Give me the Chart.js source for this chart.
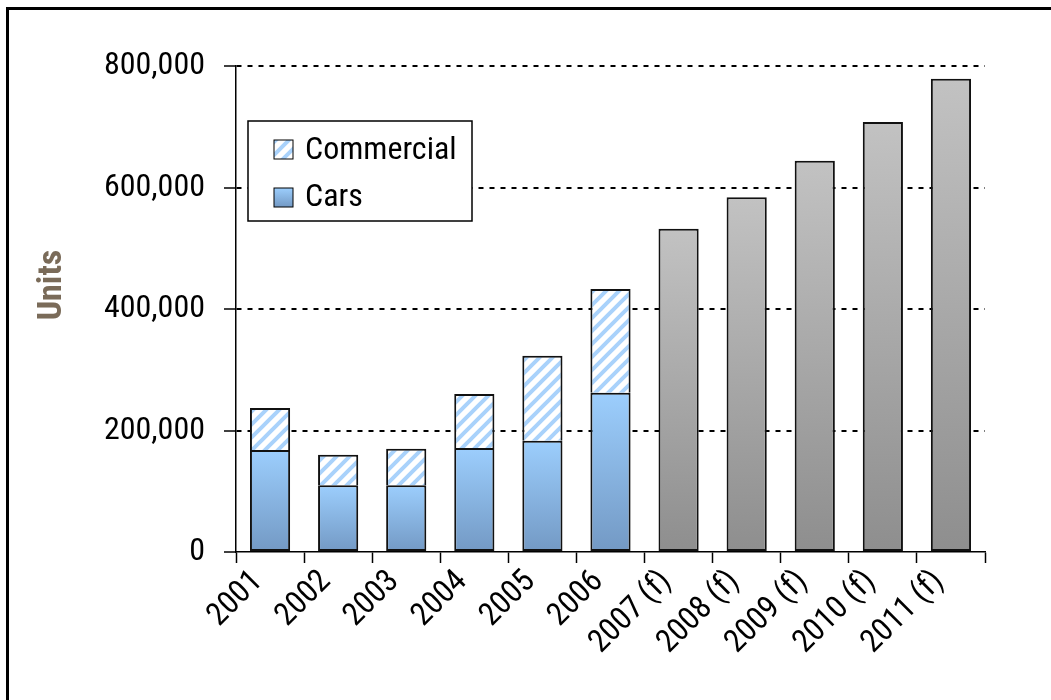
<!DOCTYPE html>
<html>
<head>
<meta charset="utf-8">
<script src="https://cdn.jsdelivr.net/npm/chart.js@4.4.1/dist/chart.umd.min.js"></script>
<style>
  body { margin: 0; background: #fff; overflow: hidden; }
  #frame { position: absolute; left: 6px; top: 7px; width: 2000px; height: 2000px;
           border-left: 3px solid #000; border-top: 3px solid #000; }
  #wrap { position: absolute; left: 0; top: 0; width: 1051px; height: 700px; }
</style>
</head>
<body>
<div id="frame"></div>
<div id="wrap"><canvas id="chart"></canvas></div>
<script>
// data
let years = ['2001', '2002', '2003', '2004', '2005', '2006',
             '2007 (f)', '2008 (f)', '2009 (f)', '2010 (f)', '2011 (f)'];
let cars       = [168000, 110000, 110000, 171000, 183000, 262000, null, null, null, null, null];
let commercial = [69000, 50000, 60000, 89000, 140000, 171000, null, null, null, null, null];
let forecast   = [null, null, null, null, null, null, 532000, 584000, 644000, 708000, 779000];
let yTicks = [0, 200000, 400000, 600000, 800000];

const FONT = "'Roboto Condensed', 'Liberation Sans Narrow', sans-serif";

// hatch pattern for commercial
let pc = document.createElement('canvas');
pc.width = 13; pc.height = 13;
let p = pc.getContext('2d');
p.fillStyle = '#fff';
p.fillRect(0, 0, 13, 13);
p.strokeStyle = '#a9d2fb';
p.lineWidth = 4;
p.beginPath();
p.moveTo(-2, 15); p.lineTo(15, -2);
p.moveTo(-8, 8); p.lineTo(8, -8);
p.moveTo(5, 21); p.lineTo(21, 5);
p.stroke();
let hatch = p.createPattern(pc, 'repeat');

// 棒ごとのグラデーション
function barGradient(c, top, bottom) {
  let chart = c.chart;
  if (!chart.chartArea) return top;
  let y = chart.scales.y;
  let v = c.parsed ? c.parsed.y : 0;
  if (v == null || isNaN(v)) return top;
  let y0 = y.getPixelForValue(0);
  let y1 = y.getPixelForValue(v);
  if (!isFinite(y1) || y1 >= y0) return top;
  let g = chart.ctx.createLinearGradient(0, y1, 0, y0);
  g.addColorStop(0, top);
  g.addColorStop(1, bottom);
  return g;
}

// 凡例と軸タイトル
let extras = {
  id: 'extras',
  afterDraw(chart) {
    let ctx = chart.ctx;
    ctx.save();
    // Units
    ctx.translate(52, 285);
    ctx.rotate(-Math.PI / 2);
    ctx.fillStyle = '#7a6b59';
    ctx.font = "bold 34px " + FONT;
    ctx.textAlign = 'center';
    ctx.textBaseline = 'middle';
    ctx.fillText('Units', 0, 0);
    ctx.restore();

    ctx.save();
    ctx.fillStyle = '#fff';
    ctx.fillRect(248, 121, 224, 100);
    ctx.strokeStyle = '#000';
    ctx.lineWidth = 1.5;
    ctx.strokeRect(248, 121, 224, 100);
    // commercial swatch
    ctx.fillStyle = hatch;
    ctx.fillRect(274, 140, 19, 19);
    ctx.lineWidth = 1;
    ctx.strokeRect(274, 140, 19, 19);
    // cars swatch
    let g = ctx.createLinearGradient(0, 188, 0, 207);
    g.addColorStop(0, '#9ccefd');
    g.addColorStop(1, '#7399c4');
    ctx.fillStyle = g;
    ctx.fillRect(274, 188, 19, 19);
    ctx.strokeRect(274, 188, 19, 19);
    ctx.fillStyle = '#000';
    ctx.font = "32px " + FONT;
    ctx.textBaseline = 'middle';
    ctx.fillText('Commercial', 305, 151);
    ctx.fillText('Cars', 305, 198);
    ctx.restore();
  }
};

let ctx = document.getElementById('chart');
new Chart(ctx, {
  type: 'bar',
  data: {
    labels: years,
    datasets: [{
      label: 'Cars',
      data: cars,
      backgroundColor: c => barGradient(c, '#9ccefd', '#7399c4'),
      borderColor: '#111',
      borderWidth: 2,
      borderSkipped: false,
    }, {
      label: 'Commercial',
      data: commercial,
      backgroundColor: hatch,
      borderColor: '#111',
      borderWidth: 2,
      borderSkipped: 'start',
    }, {
      label: 'Forecast',
      data: forecast,
      backgroundColor: c => barGradient(c, '#c2c2c2', '#8e8e8e'),
      borderColor: '#111',
      borderWidth: 2,
      borderSkipped: false,
    }]
  },
  options: {
    responsive: true,
    maintainAspectRatio: false,
    animation: false,
    layout: { padding: { left: 0, top: 66, right: 66, bottom: 0 } },
    datasets: { bar: { categoryPercentage: 1, barPercentage: 0.59 } },
    plugins: { legend: { display: false }, tooltip: { enabled: false } },
    scales: {
      x: {
        stacked: true,
        afterFit: s => { s.height = 148; },
        border: { color: '#000', width: 1.5 },
        grid: { offset: true, drawOnChartArea: false, tickLength: 11, tickColor: '#000', tickWidth: 1.5 },
        ticks: { color: '#000', font: { family: FONT, size: 32 }, minRotation: 45, maxRotation: 45,
                 padding: 0, labelOffset: -12 }
      },
      y: {
        stacked: true,
        min: 0,
        max: 800000,
        afterFit: s => { s.width = 236; },
        afterBuildTicks: s => { s.ticks = yTicks.map(v => ({ value: v })); },
        border: { color: '#000', width: 1.5, dash: [5, 6] },
        grid: {
          color: c => (c.tick && c.tick.value === 0) ? 'rgba(0,0,0,0)' : '#000',
          lineWidth: 2,
          tickBorderDash: [],
          tickLength: 12,
          tickColor: '#000',
          tickWidth: 1.5
        },
        ticks: {
          color: '#000',
          padding: 19,
          font: { family: FONT, size: 32 },
          callback: v => v.toLocaleString('en-US')
        }
      }
    }
  },
  plugins: [extras]
});
</script>
</body>
</html>
